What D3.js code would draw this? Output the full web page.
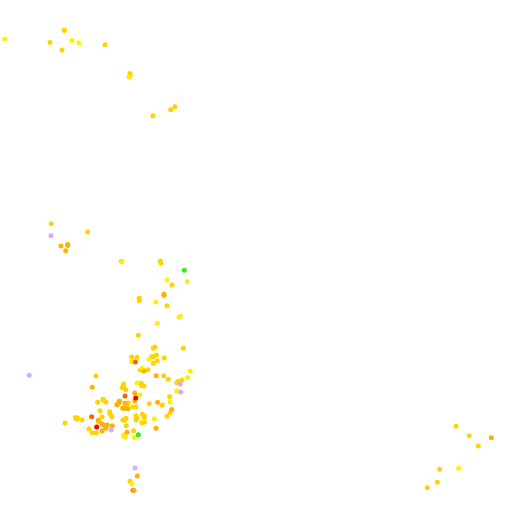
<!DOCTYPE html>
<html>
<head>
<meta charset="utf-8">
<script src="https://cdn.jsdelivr.net/npm/d3@7"></script>
<style>
  html, body { margin: 0; padding: 0; background: #fff; }
  svg { display: block; }
</style>
</head>
<body>
<div id="chart"></div>
<script>
// values, one list per level
var levels = ["yellow", "gold", "amber", "orange", "red", "lilac", "green"];
var levelColors = ["#fff000", "#ffd200", "#ffb000", "#ff6000", "#ff0000", "#d8aaff", "#33ee11"];

var goldX = [50,64,64.5,62,105,130,130,153,170.7,175,51.3,87.7,121.2,160.3,161,172,139.3,139.3,167,138.3,155,153.3,183.3,131.7,137,151.7,153,156.3,157.3,153.3,164.3,140.3,148,163.7,168.3,182,178.3,176.7,141.3,144,141.7,123.7,123.3,125.7,122.3,169.7,149.3,162.3,128.3,126.7,132.7,136,65,75.7,77.3,76.7,82,89,92.3,96.3,102,100,97.7,103.3,106,109.7,110,111.7,98.7,123,117,170,167,136,136,137,142.3,144.3,144.3,141.7,144.3,126,123.3,124.7,126.3,133.7,456,469.3,478.3,439.7,437.3,427.3,96,103,130];
var goldY = [42.5,30,30.5,50,44.7,73.5,75.5,115.7,109.7,106.7,223.7,232,261.2,261,263.3,285,298.3,300.7,305.7,335.3,347,348.3,348.3,357,357.3,356.7,356.7,355,360.7,363.3,358,370,369.7,375.7,379.3,380,381.3,382.7,383.3,386,385.7,384,386,389.7,387.7,396.7,403.7,405,403,405.7,407,407,423,417.7,417.7,419.3,419.7,428.7,432.7,432.7,417,410.7,402.3,400.3,402,411.7,413.7,416.7,422,420,404.3,412.7,416.3,415.7,420,418,414.3,415.7,417.3,422.7,422.3,418.3,420,420,425.7,430.7,426.3,435.7,446,469.3,482.3,487.7,376,399.3,481.3];
var yellowX = [4.7,72,79,129,121.9,167,187.3,155.7,179.2,180.3,157.3,131.7,149.3,142.3,190.3,187.7,176.7,137,139.7,170,154.3,123.3,123.7,125.3,134.3,132,458.7];
var yellowY = [39,40.5,43,77,261.8,280,281.7,302,317.3,316.2,323.3,361.7,359.3,368.3,371.3,377.7,391,383,395,402,419,435.7,435,437.3,437.3,483.7,468.3];
var amberX = [61,67.7,67.7,65.7,164,164,144,156.3,134.7,134.7,157.7,171.7,119.7,118.7,117,125,123.3,124.7,128,92.3,98.3,102,104,106,107.3,105.7,102,112.3,119.3,122.7,156,127,137.3,491.3];
var amberY = [246,244.6,245.6,250.7,294,295.4,371,375.7,393,401,402.3,409.5,401.3,402.7,405,403.3,408,408.3,408.7,387.3,420.3,424,425,426.7,425,428.3,431,425.7,401.3,408.3,428.3,432.3,476,437.7];
var orangeX = [135.3,125,91.7,133];
var orangeY = [362,396,416.7,490.2];
var redX = [135.7,96.7];
var redY = [398,427];
var lilacX = [51,180.3,180.7,111.3,135,29.3];
var lilacY = [235.7,384,392,430,468,375.3];
var greenX = [184.3,138.3];
var greenY = [270.3,434.7];
// the amber dot that overlaps the orange one at the bottom of the cluster
var amberTopX = [134];
var amberTopY = [490.2];

var width = 512;
var height = 512;

var x = d3.scaleLinear().domain([0, 512]).range([0, width]);
var y = d3.scaleLinear().domain([0, 512]).range([0, height]);
var color = d3.scaleOrdinal().domain(levels).range(levelColors);

var svg = d3.select("#chart")
    .append("svg")
    .attr("width", width)
    .attr("height", height);

// later levels sit on top, same as the picture
var series = [
  ["gold", goldX, goldY],
  ["yellow", yellowX, yellowY],
  ["amber", amberX, amberY],
  ["orange", orangeX, orangeY],
  ["amber", amberTopX, amberTopY],
  ["red", redX, redY],
  ["lilac", lilacX, lilacY],
  ["green", greenX, greenY]
];

series.forEach(function(s) {
  svg.append("g")
      .attr("class", "level-" + s[0])
    .selectAll("circle")
      .data(s[1])
    .enter().append("circle")
      .attr("cx", function(d) { return x(d); })
      .attr("cy", function(d, i) { return y(s[2][i]); })
      .attr("r", 2.5)
      .attr("fill", color(s[0]));
});
</script>
</body>
</html>
